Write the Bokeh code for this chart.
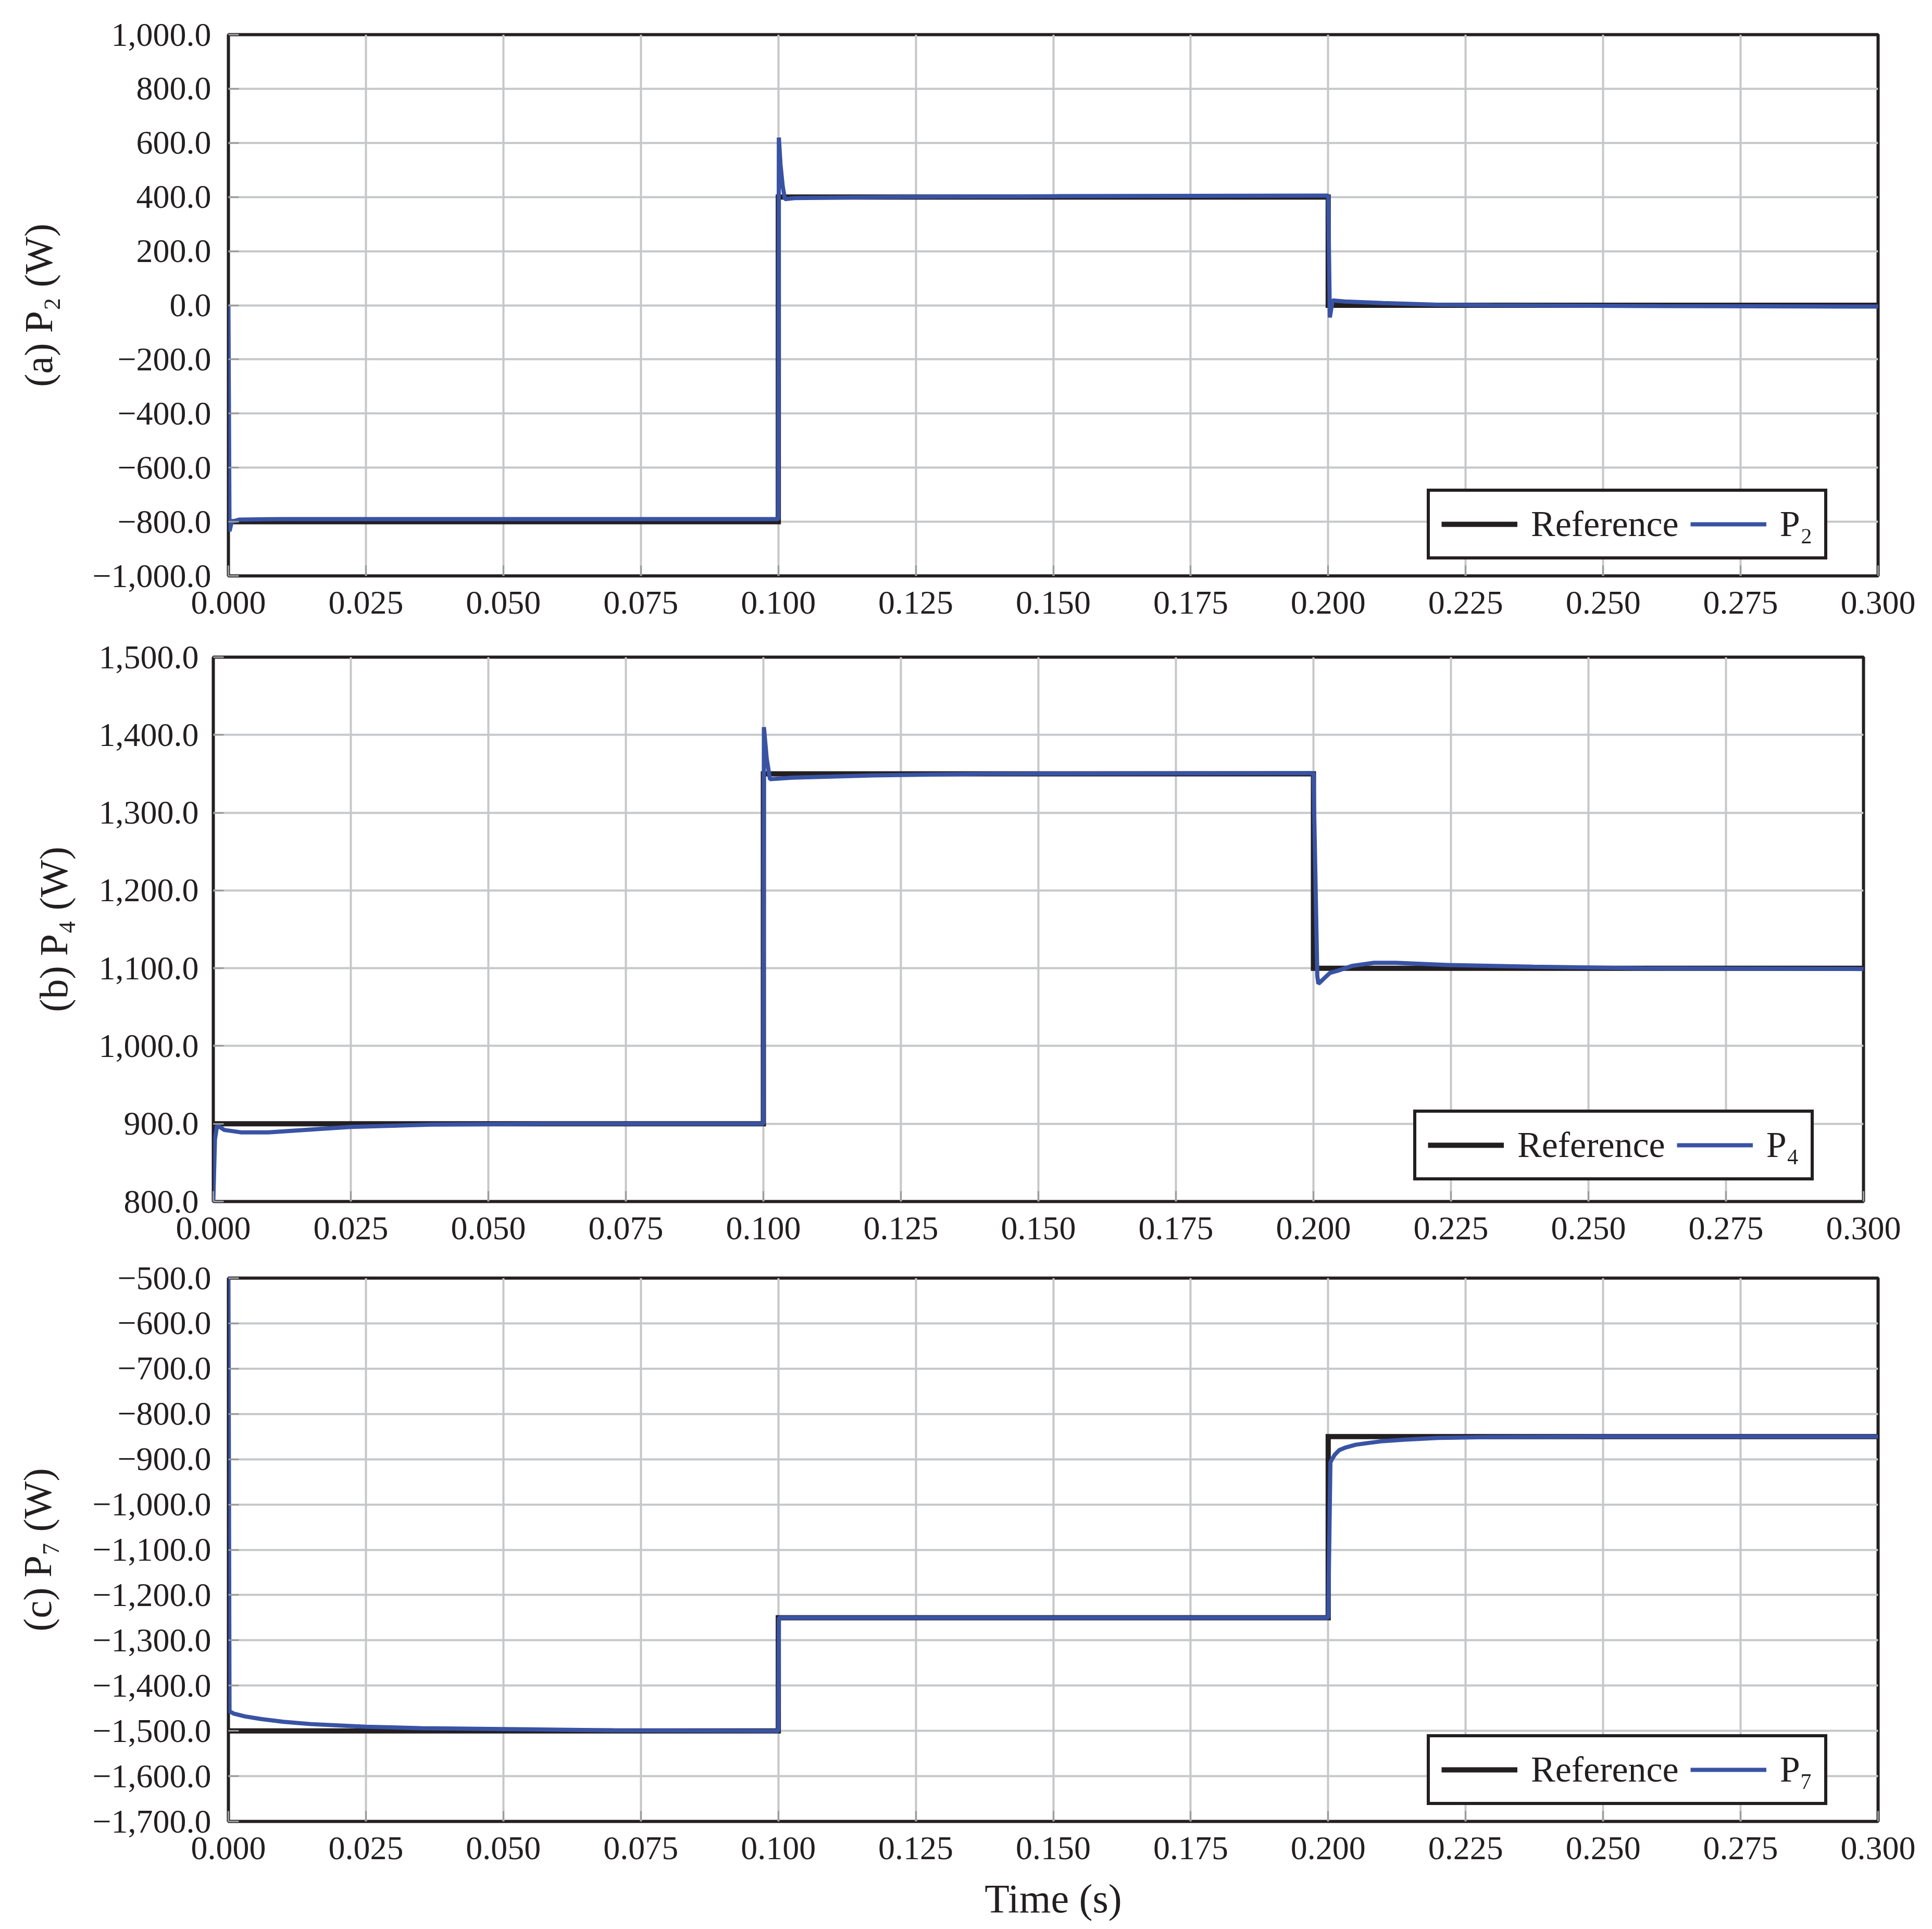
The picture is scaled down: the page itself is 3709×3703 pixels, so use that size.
from bokeh.plotting import figure
from bokeh.layouts import column
from bokeh.models import Range1d, FixedTicker
from bokeh.embed import file_html
from bokeh.resources import INLINE

# ---------------- data ----------------
time_ticks = [0.0, 0.025, 0.05, 0.075, 0.1, 0.125, 0.15, 0.175, 0.2, 0.225, 0.25, 0.275, 0.3]
time_tick_labels = ["0.000", "0.025", "0.050", "0.075", "0.100", "0.125", "0.150",
                    "0.175", "0.200", "0.225", "0.250", "0.275", "0.300"]

# reference set-points (step changes at 0.1 s and 0.2 s)
ref_t = [0.0, 0.1, 0.2, 0.3]
ref_p2 = [-800, 400, 0, 0]
ref_p4 = [900, 1350, 1100, 1100]
ref_p7 = [-1500, -1250, -850, -850]

# measured powers
p2_t = [0.0, 0.0002, 0.0006, 0.002, 0.01, 0.05, 0.1, 0.1001, 0.1004, 0.1008, 0.1012, 0.103,
        0.12, 0.15, 0.2, 0.2003, 0.2008, 0.203, 0.21, 0.22, 0.23, 0.26, 0.3]
p2_v = [0, -835, -800, -792, -790, -790, -790, 620, 520, 440, 392, 396,
        400, 403, 405, -45, 18, 14, 8, 2, 0, -3, -5]

p4_t = [0.0, 0.0003, 0.0007, 0.002, 0.005, 0.01, 0.025, 0.04, 0.06, 0.1, 0.1001, 0.1006,
        0.1012, 0.105, 0.12, 0.14, 0.2, 0.2007, 0.2009, 0.203, 0.2045, 0.207, 0.211, 0.215,
        0.225, 0.24, 0.26, 0.3]
p4_v = [800, 880, 898, 892, 889, 889, 896, 899, 900, 900, 1410, 1370,
        1343, 1345, 1348, 1350, 1351, 1090, 1080, 1094, 1097, 1103, 1107, 1107,
        1104, 1102, 1100, 1099]

p7_t = [0.0, 0.0002, 0.001, 0.003, 0.006, 0.01, 0.015, 0.025, 0.035, 0.05, 0.07, 0.1,
        0.1001, 0.15, 0.2, 0.2004, 0.2007, 0.2012, 0.202, 0.2032, 0.205, 0.2074, 0.21,
        0.2137, 0.22, 0.23, 0.25, 0.3]
p7_v = [-500, -1457, -1462, -1468, -1474, -1480, -1485, -1491, -1494, -1496, -1499, -1500,
        -1250, -1250, -1250, -907, -900, -890, -880, -874, -868, -864, -860,
        -857, -853, -851, -850, -850]

p2_ticks = [-1000, -800, -600, -400, -200, 0, 200, 400, 600, 800, 1000]
p2_tick_labels = ["\u22121,000.0", "\u2212800.0", "\u2212600.0", "\u2212400.0", "\u2212200.0",
                  "0.0", "200.0", "400.0", "600.0", "800.0", "1,000.0"]
p4_ticks = [800, 900, 1000, 1100, 1200, 1300, 1400, 1500]
p4_tick_labels = ["800.0", "900.0", "1,000.0", "1,100.0", "1,200.0", "1,300.0", "1,400.0", "1,500.0"]
p7_ticks = [-1700, -1600, -1500, -1400, -1300, -1200, -1100, -1000, -900, -800, -700, -600, -500]
p7_tick_labels = ["\u22121,700.0", "\u22121,600.0", "\u22121,500.0", "\u22121,400.0",
                  "\u22121,300.0", "\u22121,200.0", "\u22121,100.0", "\u22121,000.0",
                  "\u2212900.0", "\u2212800.0", "\u2212700.0", "\u2212600.0", "\u2212500.0"]

# ---------------- style ----------------
FONT = "Liberation Serif"
INK = "#231f20"
BLUE = "#3953a4"
GRID = "#c6c7c9"
TICK = "#9a9b9d"
W = 3705


def panel(ylab, yr, yticks, ylabels, ref_y, sim_t, sim_y, sim_name, *,
          left, top, frame_w, frame_h, bottom, ylab_standoff, ylabel_standoff,
          legend_xy, xlabel=None):
    right = W - left - frame_w
    p = figure(width=W, height=top + frame_h + bottom,
               frame_width=frame_w, frame_height=frame_h,
               output_backend="svg",
               toolbar_location=None, x_range=Range1d(0, 0.3), y_range=Range1d(*yr),
               min_border_left=left, min_border_right=right,
               min_border_top=top, min_border_bottom=bottom,
               background_fill_color="white", border_fill_color="white")
    if "frame_align" in p.properties():
        p.frame_align = False
    p.outline_line_color = INK
    p.outline_line_width = 6
    p.xgrid.ticker = FixedTicker(ticks=time_ticks)
    p.ygrid.ticker = FixedTicker(ticks=yticks)
    p.grid.grid_line_color = GRID
    p.grid.grid_line_width = 4

    for ax in (p.xaxis[0], p.yaxis[0]):
        ax.axis_line_color = None
        ax.major_tick_in = 20
        ax.major_tick_out = 0
        ax.major_tick_line_color = TICK
        ax.major_tick_line_width = 3
        ax.minor_tick_line_color = None
        ax.major_label_text_font = FONT
        ax.major_label_text_font_size = "64px"
        ax.major_label_text_color = INK
        ax.axis_label_text_font = FONT
        ax.axis_label_text_font_style = "normal"
        ax.axis_label_text_font_size = "76px"
        ax.axis_label_text_color = INK

    xa = p.xaxis[0]
    xa.ticker = FixedTicker(ticks=time_ticks)
    xa.major_label_overrides = dict(zip(time_ticks, time_tick_labels))
    xa.major_label_standoff = 30
    if xlabel:
        xa.axis_label = xlabel
        xa.axis_label_text_font_size = "78px"
        xa.axis_label_standoff = 29

    ya = p.yaxis[0]
    ya.ticker = FixedTicker(ticks=yticks)
    ya.major_label_overrides = dict(zip(yticks, ylabels))
    ya.major_label_standoff = ylabel_standoff
    ya.axis_label = ylab
    ya.axis_label_standoff = ylab_standoff

    p.step(ref_t, ref_y, mode="after", line_color=INK, line_width=10, line_join="miter",
           legend_label="Reference")
    p.line(sim_t, sim_y, line_color=BLUE, line_width=8, legend_label=sim_name)

    lg = p.legend[0]
    lg.location = legend_xy
    lg.orientation = "horizontal"
    lg.margin = 0
    lg.padding = 22
    lg.spacing = 22
    lg.label_standoff = 26
    lg.glyph_width = 146
    lg.glyph_height = 30
    lg.label_text_font = FONT
    lg.label_text_font_size = "70px"
    lg.label_text_color = INK
    lg.border_line_color = INK
    lg.border_line_width = 6
    lg.border_line_alpha = 1.0
    lg.background_fill_alpha = 1.0
    return p


pa = panel("(a) P\u2082 (W)", (-1000, 1000), p2_ticks, p2_tick_labels, ref_p2, p2_t, p2_v,
           "P\u2082", left=438, top=66, frame_w=3167, frame_h=1039, bottom=104,
           ylab_standoff=58, ylabel_standoff=33, legend_xy=(2301, 31))
pb = panel("(b) P\u2084 (W)", (800, 1500), p4_ticks, p4_tick_labels, ref_p4, p4_t, p4_v,
           "P\u2084", left=409, top=52, frame_w=3168, frame_h=1045, bottom=104,
           ylab_standoff=42, ylabel_standoff=28, legend_xy=(2304, 40))
pc = panel("(c) P\u2087 (W)", (-1700, -500), p7_ticks, p7_tick_labels, ref_p7, p7_t, p7_v,
           "P\u2087", left=438, top=43, frame_w=3167, frame_h=1043, bottom=190,
           ylab_standoff=60, ylabel_standoff=33, legend_xy=(2301, 31), xlabel="Time (s)")

layout = column(pa, pb, pc, spacing=0)
open("out.html", "w").write(file_html(layout, INLINE))
